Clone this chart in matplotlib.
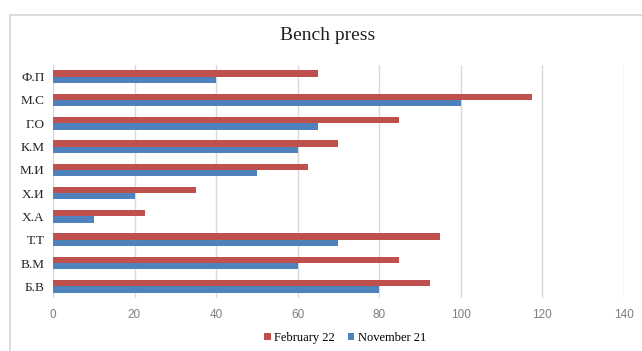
import matplotlib.pyplot as plt
import numpy as np
from matplotlib.patches import Rectangle

# names top to bottom as in the chart
names = ["Ф.П", "М.С", "Г.О", "К.М", "М.И", "Х.И", "Х.А", "Т.Т", "В.М", "Б.В"]
feb22 = [65, 117.5, 85, 70, 62.5, 35, 22.5, 95, 85, 92.5]
nov21 = [40, 100, 65, 60, 50, 20, 10, 70, 60, 80]
xticks = [0, 20, 40, 60, 80, 100, 120, 140]

fig = plt.figure(figsize=(6.42, 3.51), dpi=100)
# light frame round the chart (cut at right/bottom)
fig.patches.append(Rectangle((10 / 642, -0.1), 1.2, 1 - 15 / 351 + 0.1,
                             transform=fig.transFigure, fill=False,
                             edgecolor="#d9d4cf", lw=1.2))
ax = fig.add_axes([53 / 642, 1 - 298 / 351, 570.5 / 642, 233 / 351])

y = np.arange(len(names))
h = 0.27
ax.barh(y - h / 2, feb22, height=h, color="#c0504d", label="February 22", zorder=3)
ax.barh(y + h / 2, nov21, height=h, color="#4f81bd", label="November 21", zorder=3)

ax.set_ylim(len(names) - 0.5, -0.5)
ax.set_xlim(0, 140)
ax.set_xticks(xticks)
ax.set_yticks(y)
ax.set_yticklabels(names, fontfamily="Liberation Serif", fontsize=9.5, color="#222222")
ax.tick_params(axis="x", colors="#7f7f7f", labelsize=8.5, length=0, pad=8)
ax.tick_params(axis="y", length=0, pad=6)
for lab in ax.get_xticklabels():
    lab.set_fontfamily("Liberation Sans")
ax.grid(axis="x", color="#d9d9d9", lw=1, zorder=0)
for s in ax.spines.values():
    s.set_visible(False)

fig.text(328 / 642, 1 - 36 / 351, "Bench press", ha="center", va="center",
         fontfamily="Liberation Serif", fontsize=14, color="#222222")

fig.legend(loc="center", bbox_to_anchor=(345 / 642, 1 - 338 / 351), ncol=2,
           frameon=False, handlelength=0.5, handleheight=0.5, handletextpad=0.3,
           columnspacing=1.0, prop={"family": "Liberation Serif", "size": 9})

plt.savefig("out.png", dpi=100)
